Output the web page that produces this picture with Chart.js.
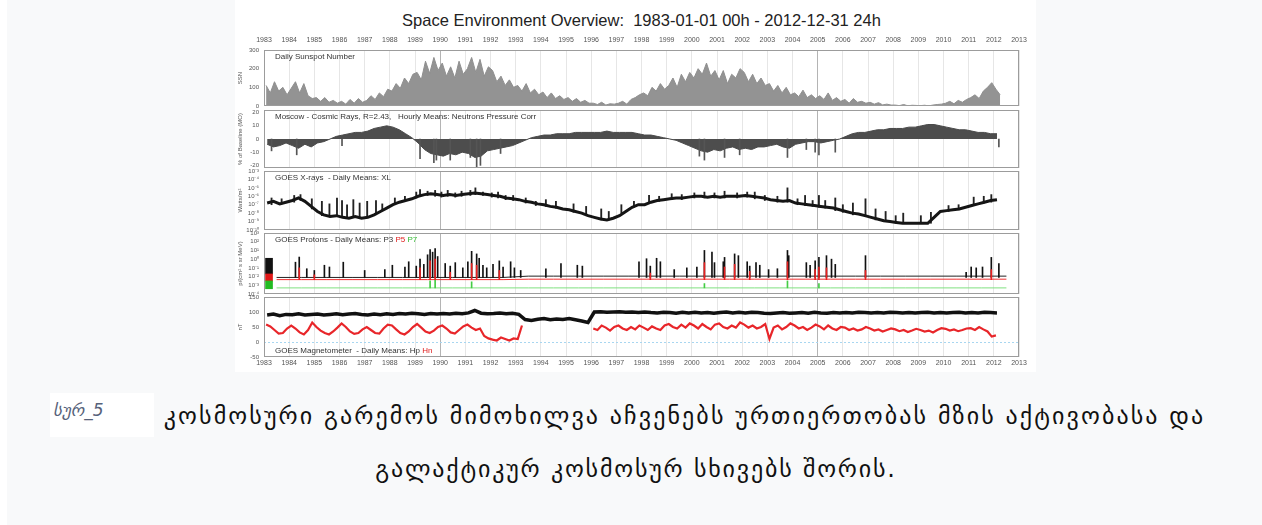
<!DOCTYPE html>
<html><head><meta charset="utf-8">
<script src="https://cdn.jsdelivr.net/npm/chart.js@4.4.1/dist/chart.umd.min.js"></script>
<style>
html,body{margin:0;padding:0;width:1262px;height:525px;overflow:hidden;background:#fff;}
#bg{position:absolute;left:7px;top:0;width:1255px;height:525px;background:#f8f9fa;}
#fig{position:absolute;left:235px;top:0;width:801px;height:372px;background:#fff;}
#title{position:absolute;left:6px;top:10px;width:801px;text-align:center;font:16.5px/20px "Liberation Sans",Arial,sans-serif;color:#222;white-space:pre;}
canvas{position:absolute;left:0;}
.cap{position:absolute;font-family:"DejaVu Sans",sans-serif;font-size:24px;letter-spacing:1.8px;line-height:53px;color:#111;white-space:nowrap;}
#cap1{left:50px;top:390px;letter-spacing:2.1px;}
#cap2{left:0;top:443px;width:1272px;text-align:center;}
.tag{display:inline-block;vertical-align:top;margin-top:3px;margin-right:0;width:104px;height:44px;box-sizing:border-box;padding-left:3px;padding-top:2px;background:#fff;font-style:italic;font-size:17px;letter-spacing:0;line-height:30px;color:#56627a;text-align:left;}
</style></head>
<body>
<div id="bg"></div>
<div id="fig">
  <div id="title">Space Environment Overview:  1983-01-01 00h - 2012-12-31 24h</div>
  <canvas id="c1"></canvas><canvas id="c2"></canvas><canvas id="c3"></canvas><canvas id="c4"></canvas><canvas id="c5"></canvas>
</div>
<div class="cap" id="cap1"><span class="tag">სურ_5</span> კოსმოსური გარემოს მიმოხილვა აჩვენებს ურთიერთობას მზის აქტივობასა და</div>
<div class="cap" id="cap2">გალაქტიკურ კოსმოსურ სხივებს შორის.</div>
<script>
// ---------- tick labels ----------
const yearTicks = [1983,1984,1985,1986,1987,1988,1989,1990,1991,1992,1993,1994,1995,1996,1997,1998,1999,2000,2001,2002,2003,2004,2005,2006,2007,2008,2009,2010,2011,2012,2013];
const sunspotTicks = [0,100,200,300];
const cosmicTicks = [-20,-10,0,10,20];
const xrayTickExp = [-10,-9,-8,-7,-6,-5,-4,-3];
const xrayTickLabels = ['10⁻¹⁰','10⁻⁹','10⁻⁸','10⁻⁷','10⁻⁶','10⁻⁵','10⁻⁴','10⁻³'];
const protonTickExp = [-4,-3,-2,-1,0,1,2,3];
const protonTickLabels = ['10⁻⁴','10⁻³','10⁻²','10⁻¹','10⁰','10¹','10²','10³'];
const magTicks = [-50,0,50,100,150];

// ---------- Daily sunspot number (6 samples per year from 1983) ----------
const sunspot = [
110,70,130,80,100,60, 95,130,70,120,55,40, 45,25,45,20,30,15, 25,10,35,15,40,20,
30,55,35,70,50,90, 80,120,95,150,120,170, 180,140,240,175,260,190, 230,160,210,150,240,170,
200,260,180,250,160,210, 190,130,160,110,140,100, 110,80,120,70,90,60, 75,45,70,40,55,35,
45,25,40,20,30,15, 15,8,20,5,12,10, 15,25,10,35,45,60, 70,55,100,80,120,90,
110,150,100,170,130,180, 150,200,170,230,160,190, 140,190,120,170,150,200, 180,130,170,120,150,110,
120,80,110,70,100,60, 70,50,85,45,60,40, 55,35,70,30,45,25, 35,15,40,20,25,15,
20,10,18,6,10,5, 5,2,8,1,4,3, 2,4,1,5,8,10, 15,25,12,30,20,35,
45,60,40,80,100,125, 90,60];

// ---------- Moscow cosmic rays, % of baseline (4 samples per year) ----------
const cosmicRay = [
-4,-6,-5,-3, -5,-7,-4,-6, -3,-2,0,2, 3,4,5,5, 6,8,9,10, 9,7,4,1, -3,-8,-11,-12, -13,-11,-12,-10,
-11,-14,-13,-9, -8,-7,-6,-5, -3,-1,1,2, 3,3,4,4, 4,5,5,5, 5,5,6,5, 5,5,5,4, 3,3,2,1,
0,-1,-3,-5, -7,-9,-10,-8, -9,-7,-6,-8, -7,-8,-6,-6, -5,-4,-6,-7, -4,-3,-2,-2, -3,-2,-1,0,
2,4,5,5, 6,7,7,8, 8,8,9,9, 10,11,11,10, 9,8,7,7, 6,5,5,4, 4];
const cosmicDipYears = [1983.3,1984.3,1986.1,1989.2,1989.75,1989.85,1990.4,1991.2,1991.45,1991.6,1992.4,2000.3,2000.5,2001.3,2001.9,2003.8,2004.55,2004.9,2005.05,2005.7,2012.2];
const cosmicDipValues = [-9,-12,-5,-15,-18,-16,-16,-14,-25,-20,-11,-13,-16,-14,-12,-14,-8,-10,-12,-10,-6];

// ---------- GOES X-rays, log10 W/m2 (4 samples per year) ----------
const xrayExp = [
-6.8,-6.6,-6.9,-6.7, -6.5,-6.2,-6.6,-7.2, -7.8,-8.2,-8.4,-8.3, -8.5,-8.6,-8.4,-8.6,
-8.5,-8.2,-7.8,-7.4, -7.0,-6.7,-6.5,-6.3, -6.0,-5.8,-5.7,-5.8, -5.9,-5.8,-5.9,-5.8,
-5.7,-5.6,-5.7,-5.8, -5.9,-6.0,-6.2,-6.3, -6.4,-6.6,-6.7,-6.9, -7.0,-7.2,-7.3,-7.5,
-7.6,-7.8,-8.0,-8.3, -8.5,-8.7,-8.8,-8.6, -8.3,-7.8,-7.3,-7.0, -7.0,-6.7,-6.5,-6.4,
-6.3,-6.2,-6.2,-6.1, -6.0,-6.0,-6.1,-6.0, -6.1,-6.0,-6.0,-6.0, -5.9,-6.0,-6.1,-6.2,
-6.4,-6.5,-6.6,-6.5, -6.8,-6.9,-7.0,-7.1, -7.2,-7.3,-7.4,-7.6, -7.8,-8.0,-8.1,-8.3,
-8.5,-8.7,-8.9,-9.0, -9.1,-9.2,-9.2,-9.2, -9.2,-9.2,-8.5,-7.8, -7.7,-7.6,-7.5,-7.3,
-7.1,-6.9,-6.7,-6.5, -6.4];
const xraySpikeYears = [1983.3,1983.7,1984.2,1984.45,1984.9,1985.3,1985.6,1985.9,1986.1,1986.3,1986.55,1986.8,1987.1,1987.45,1987.7,1988.2,1988.6,1989.05,1989.2,1989.5,1989.8,1990.05,1990.3,1990.6,1990.85,1991.2,1991.4,1991.7,1992.05,1992.3,1992.6,1992.9,1993.4,1993.8,1994.2,1994.6,1995.3,1995.8,1996.4,1996.7,1997.2,1997.7,1998.3,1998.7,1999.2,1999.6,2000.1,2000.5,2000.9,2001.3,2001.8,2002.2,2002.5,2002.9,2003.4,2003.8,2004.2,2004.5,2004.8,2005.05,2005.3,2005.7,2006.0,2006.4,2006.9,2007.3,2007.7,2008.1,2008.4,2009.1,2009.5,2010.2,2010.6,2011.2,2011.6,2011.9];
const xraySpikeLow  = [-7.0,-6.9,-6.7,-6.5,-7.5,-8.3,-8.4,-8.3,-8.5,-8.6,-8.5,-8.6,-8.4,-8.0,-7.6,-6.9,-6.6,-6.2,-6.0,-5.9,-6.0,-6.1,-6.0,-6.1,-6.0,-5.9,-5.8,-5.9,-6.1,-6.2,-6.4,-6.5,-6.8,-7.1,-7.2,-7.4,-7.9,-8.2,-8.8,-8.8,-8.0,-7.3,-6.7,-6.6,-6.4,-6.4,-6.2,-6.2,-6.2,-6.2,-6.2,-6.1,-6.3,-6.5,-6.7,-6.7,-7.0,-7.1,-7.2,-7.3,-7.4,-7.7,-7.9,-8.2,-8.4,-8.8,-9.0,-9.2,-9.2,-9.2,-9.2,-7.8,-7.6,-7.1,-6.8,-6.7];
const xraySpikeHigh = [-6.2,-6.3,-5.9,-5.8,-6.3,-6.6,-6.9,-6.2,-6.5,-7.0,-6.4,-6.8,-6.6,-6.5,-6.9,-6.2,-6.0,-5.5,-5.2,-5.4,-5.3,-5.5,-5.3,-5.6,-5.4,-5.3,-5.0,-5.5,-5.6,-5.5,-5.9,-5.9,-6.2,-6.6,-6.4,-6.6,-6.9,-7.2,-7.5,-7.8,-7.0,-6.6,-5.9,-6.0,-5.7,-5.8,-5.6,-5.5,-5.6,-5.4,-5.6,-5.5,-5.5,-5.9,-6.0,-5.0,-6.3,-5.9,-6.5,-5.9,-6.5,-6.2,-7.0,-6.8,-6.3,-7.5,-7.8,-8.3,-8.0,-8.3,-7.9,-7.1,-7.0,-6.1,-6.0,-5.8];

// ---------- GOES protons, log10 flux: yearly background levels 1983..2012 ----------
const p3Base = [-2.1,-2.1,-2.1,-2.1,-2.1,-2.1,-2.1,-2.1,-2.1,-2.1,-1.95,-1.95,-1.95,-1.95,-1.95,-1.95,-1.95,-1.95,-1.95,-1.95,-1.95,-1.95,-1.95,-1.95,-1.95,-1.95,-1.95,-1.95,-1.95,-1.95];
const p5Base = [-2.35,-2.35,-2.35,-2.35,-2.35,-2.35,-2.35,-2.35,-2.35,-2.35,-2.3,-2.3,-2.3,-2.3,-2.3,-2.3,-2.3,-2.3,-2.3,-2.3,-2.3,-2.3,-2.3,-2.3,-2.3,-2.3,-2.3,-2.3,-2.3,-2.3];
const p7Base = [-3.3,-3.3,-3.3,-3.3,-3.3,-3.3,-3.3,-3.3,-3.3,-3.3,-3.3,-3.3,-3.3,-3.3,-3.3,-3.3,-3.3,-3.3,-3.3,-3.3,-3.3,-3.3,-3.3,-3.3,-3.3,-3.3,-3.3,-3.3,-3.3,-3.3];
const protonBurstYear = 1983.2;
const p3Burst = [-1.7, 0.1];
const p5Burst = [-2.5, -1.7];
const p7Burst = [-3.4, -2.5];
const p3EventYears = [1984.25,1984.4,1984.7,1985.0,1985.4,1985.6,1986.15,1987.0,1987.8,1988.1,1988.6,1988.75,1989.05,1989.2,1989.35,1989.5,1989.6,1989.7,1989.8,1989.9,1990.2,1990.4,1990.6,1990.9,1991.1,1991.25,1991.45,1991.55,1991.7,1991.85,1992.1,1992.35,1992.5,1992.8,1992.95,1993.2,1994.2,1994.8,1995.45,1995.65,1997.9,1998.2,1998.35,1998.6,1998.75,1999.3,1999.8,2000.2,2000.5,2000.8,2000.9,2001.25,2001.3,2001.7,2001.85,2002.2,2002.3,2002.55,2002.7,2003.05,2003.4,2003.8,2003.85,2004.55,2004.7,2004.9,2005.05,2005.35,2005.55,2005.7,2006.9,2010.9,2011.1,2011.3,2011.55,2011.9,2012.2];
const p3EventPeaks = [-0.35,0.24,-1.1,-1.3,-0.7,-0.9,-0.35,-1.3,-1.2,-0.7,-0.9,-0.3,-0.8,0.0,-0.6,0.5,1.1,0.8,1.2,0.3,-0.5,-0.8,-0.4,-1.0,-0.3,0.9,0.6,0.1,-0.7,-1.0,-0.6,-0.2,-0.9,-0.3,-1.0,-1.3,-1.1,-0.5,-0.7,-0.8,-0.3,0.05,-0.8,0.1,-0.3,-1.2,-1.0,-0.9,1.0,0.8,-0.4,-0.3,0.2,0.6,0.4,-0.3,-0.8,-0.4,-0.7,-1.2,-1.1,1.0,0.4,-0.4,-0.7,-0.2,0.2,0.4,0.0,-0.6,0.4,-1.5,-0.9,-1.0,-0.9,0.2,-0.5];
const p5EventYears = [1984.4,1985.0,1989.2,1989.6,1989.8,1990.4,1991.25,1991.45,1992.35,1998.35,2000.5,2001.3,2001.7,2002.3,2003.8,2004.9,2005.05,2005.35,2006.9,2011.9];
const p5EventPeaks = [-1.0,-1.8,-1.0,-0.2,0.0,-1.5,-0.5,-0.7,-1.3,-1.6,-0.4,-0.9,-0.6,-1.4,-0.3,-1.2,-0.9,-1.0,-1.3,-1.2];
const p7EventYears = [1989.6,1989.8,1991.25,2000.5,2003.8,2005.05];
const p7EventPeaks = [-2.5,-2.3,-2.6,-2.8,-2.5,-2.8];

// ---------- GOES magnetometer, nT ----------
const hp = [ // 4 samples per year
90,93,88,92, 91,94,90,92, 93,90,92,94, 91,93,95,92, 90,93,91,94, 92,95,93,96, 94,92,95,93, 95,93,96,94,
97,105,96,94, 95,97,94,96, 92,75,72,76, 78,74,77,75, 78,74,70,65, 100,101,99,100, 101,99,100,98, 100,98,97,99,
98,96,99,97, 99,97,98,96, 98,100,97,99, 97,99,98,96, 95,97,98,96, 97,98,96,99, 97,96,98,97, 98,97,99,98,
97,98,97,99, 98,97,98,97, 98,99,97,98, 97,98,99,97, 98,97,99,98, 97];
const hn = [ // 6 samples per year, null = no data
58,52,40,28,30,45, 55,45,32,25,40,65, 50,38,30,25,35,48, 62,50,35,27,30,42,
50,40,30,28,45,58, 55,42,30,25,35,50, 60,48,35,30,38,50, 55,45,32,28,40,52,
58,48,40,45,20,12, 8,5,15,10,5,12, 10,55,null,null,null,null, null,null,null,null,null,null,
null,null,null,null,null,null, 45,40,55,48,38,50, 55,45,40,50,42,55, 48,40,52,45,40,55,
60,50,45,58,48,62, 55,45,60,50,42,58, 62,50,45,55,48,65, 58,48,55,45,50,60,
10,48,55,42,50,62, 55,45,50,40,48,58, 52,42,55,45,40,50, 48,40,45,38,42,50,
45,38,42,35,40,45, 42,36,40,33,38,44, 40,35,38,32,40,46, 44,38,42,36,40,45,
46,40,50,42,35,18, 22];

// ---------- helpers ----------
const FONT = '"Liberation Sans", Arial, sans-serif';
const series = (vals, perYear, tf) => vals.map((v, i) => ({x: 1983 + (i + 0.5) / perYear, y: v === null ? null : (tf ? tf(v) : v)}));
const pow = e => Math.pow(10, e);
const bars = (years, lo, hi, tf) => years.map((yr, i) => ({x: yr, y: [tf(Array.isArray(lo) ? lo[i] : lo), tf(hi[i])]}));
const ident = v => v;

const panelPlugin = {
  id: 'panelLabel',
  afterDatasetsDraw(chart, args, opts) {
    const {ctx, chartArea: a} = chart;
    ctx.save();
    ctx.strokeStyle = '#9c9c9c'; ctx.lineWidth = 1;
    ctx.strokeRect(Math.round(a.left) + 0.5, Math.round(a.top) + 0.5, Math.round(a.right - a.left) - 1, Math.round(a.bottom - a.top) - 1);
    ctx.font = '8px ' + FONT; ctx.textBaseline = 'middle';
    let x = a.left + 11; const y = opts.bottom ? a.bottom - 6 : a.top + 7;
    for (const p of opts.parts) { ctx.fillStyle = p.color; ctx.fillText(p.text, x, y); x += ctx.measureText(p.text).width; }
    ctx.restore();
  }
};

function xScale(o) {
  return {
    type: 'linear', min: 1983, max: 2013, offset: false, position: o.position,
    afterBuildTicks: s => { s.ticks = yearTicks.map(v => ({value: v})); },
    ticks: {display: o.labels, font: {size: 7, family: FONT}, color: '#555', padding: o.pad || 0, maxRotation: 0, autoSkip: false, callback: v => String(v)},
    grid: {offset: false, drawTicks: false, lineWidth: 1, color: c => (c.tick && (c.tick.value === 1990 || c.tick.value === 2005)) ? '#b4b4b4' : '#e6e6e6'},
    border: {display: false},
    afterFit: s => { s.height = o.height; s.paddingLeft = 0; s.paddingRight = 0; }
  };
}
function yScale(o) {
  return {
    type: o.type || 'linear', min: o.min, max: o.max, position: 'left',
    afterBuildTicks: s => { s.ticks = o.ticks.map(v => ({value: v})); },
    ticks: {font: {size: 6, family: FONT}, color: '#555', padding: 5, autoSkip: false, callback: o.fmt || ((v) => String(v))},
    grid: {display: !!o.gridColor, drawTicks: false, color: o.gridColor},
    border: {display: false, dash: o.dash},
    title: {display: true, text: o.title, font: {size: 6, family: FONT}, color: '#555', padding: {top: 2, bottom: 0}},
    afterFit: s => { s.width = 29; s.paddingTop = 0; s.paddingBottom = 0; }
  };
}
function panel(id, top, height, padTop, padBottom, xo, yo, datasets, label) {
  const cv = document.getElementById(id);
  cv.width = 801; cv.height = height; cv.style.top = top + 'px';
  return new Chart(cv, {
    type: 'line',
    data: {datasets},
    options: {
      responsive: false, animation: false, devicePixelRatio: 1, events: [],
      layout: {padding: {left: 0, right: 17, top: padTop, bottom: padBottom}},
      plugins: {legend: {display: false}, tooltip: {enabled: false}, title: {display: false}, panelLabel: label},
      elements: {point: {radius: 0}, line: {tension: 0}},
      scales: {x: xScale(xo), y: yScale(yo)}
    },
    plugins: [panelPlugin]
  });
}
const spikeSet = (data, color, order, thick) => ({type: 'bar', data, backgroundColor: color, borderWidth: 0, barThickness: thick || 1, grouped: false, order});

// Panel 1: sunspots
panel('c1', 30, 80, 0, 4, {position: 'top', labels: true, pad: 6, height: 20},
  {min: 0, max: 300, ticks: sunspotTicks, title: 'SSN'},
  [{data: series(sunspot, 6), borderColor: '#8f8f8f', backgroundColor: '#939393', borderWidth: 1, fill: 'origin'}],
  {parts: [{text: 'Daily Sunspot Number', color: '#333'}]});

// Panel 2: cosmic rays
panel('c2', 106, 66, 4, 4, {position: 'bottom', labels: false, height: 0},
  {min: -22, max: 22, ticks: cosmicTicks, title: '% of Baseline (MO)'},
  [{data: series(cosmicRay, 4), borderColor: '#4a4a4a', backgroundColor: '#4d4d4d', borderWidth: 1, fill: 'origin', order: 2},
   spikeSet(bars(cosmicDipYears, 0, cosmicDipValues, ident), '#555', 1)],
  {parts: [{text: 'Moscow - Cosmic Rays, R=2.43,   Hourly Means: Neutrons Pressure Corr', color: '#333'}]});

// Panel 3: X-rays
panel('c3', 167, 67, 4, 4, {position: 'bottom', labels: false, height: 0},
  {type: 'logarithmic', min: 1e-10, max: 1e-3, ticks: xrayTickExp.map(pow), title: 'Watts/m²', fmt: (v, i) => xrayTickLabels[i]},
  [{data: series(xrayExp, 4, pow), borderColor: '#151515', borderWidth: 3, fill: false, order: 1},
   spikeSet(bars(xraySpikeYears, xraySpikeLow, xraySpikeHigh, pow), '#222', 2, 1.2)],
  {parts: [{text: 'GOES X-rays  - Daily Means: XL', color: '#333'}]});

// Panel 4: protons
const baseSeries = b => b.map((v, i) => ({x: 1983 + i + 0.5, y: pow(v)}));
panel('c4', 229, 69, 4, 4, {position: 'bottom', labels: false, height: 0},
  {type: 'logarithmic', min: 1e-4, max: 1e3, ticks: protonTickExp.map(pow), title: 'p/(cm² s sr MeV)', fmt: (v, i) => protonTickLabels[i]},
  [{data: baseSeries(p7Base), borderColor: '#7fe07f', borderWidth: 1, order: 9},
   {data: baseSeries(p5Base), borderColor: '#f03030', borderWidth: 1, order: 8},
   {data: baseSeries(p3Base), borderColor: '#222', borderWidth: 1, order: 7},
   spikeSet(bars(p7EventYears, p7Base[0], p7EventPeaks, pow), '#44cc44', 6),
   spikeSet(bars(p3EventYears, p3Base[0], p3EventPeaks, pow), '#111', 5),
   spikeSet(bars(p5EventYears, p5Base[0], p5EventPeaks, pow), '#e82020', 4),
   spikeSet([{x: protonBurstYear, y: p3Burst.map(pow)}], '#111', 3, 7),
   spikeSet([{x: protonBurstYear, y: p5Burst.map(pow)}], '#e01818', 2, 7),
   spikeSet([{x: protonBurstYear, y: p7Burst.map(pow)}], '#22bb22', 1, 7)],
  {parts: [{text: 'GOES Protons - Daily Means: P3 ', color: '#333'}, {text: 'P5 ', color: '#e02020'}, {text: 'P7', color: '#33bb33'}]});

// Panel 5: magnetometer
panel('c5', 293, 79, 4, 0, {position: 'bottom', labels: true, pad: 2, height: 15},
  {min: -50, max: 150, ticks: magTicks, title: 'nT', gridColor: c => (c.tick && c.tick.value === 0) ? '#a8d6f0' : 'rgba(0,0,0,0)', dash: [2, 2]},
  [{data: series(hp, 4), borderColor: '#111', borderWidth: 3.5, order: 1},
   {data: series(hn, 6), borderColor: '#e8262a', borderWidth: 2.2, spanGaps: false, order: 2}],
  {bottom: true, parts: [{text: 'GOES Magnetometer  - Daily Means: Hp ', color: '#333'}, {text: 'Hn', color: '#e02020'}]});
</script>
</body></html>
